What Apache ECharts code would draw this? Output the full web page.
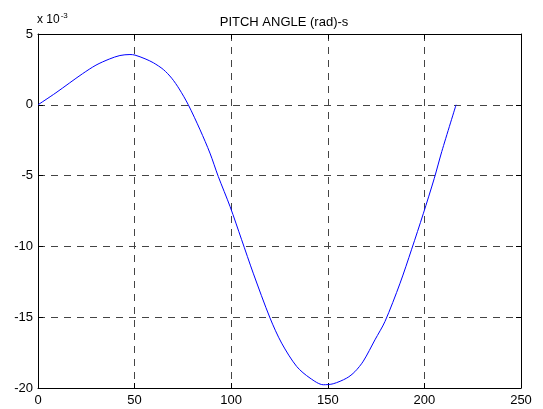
<!DOCTYPE html>
<html>
<head>
<meta charset="utf-8">
<script src="https://cdn.jsdelivr.net/npm/echarts@6.0.0/dist/echarts.min.js"></script>
<style>
  html, body { margin: 0; padding: 0; background: #fff; }
  #chart { width: 543px; height: 409px; }
</style>
</head>
<body>
<div id="chart"></div>
<script>
// time (s) and pitch angle (rad, x 10^-3)
const timeS = [0, 9.3, 16.2, 23.1, 30, 36.9, 42.4, 47.6, 50.2, 55.4, 59.7, 64.9, 69.2, 73.1, 77.8,
  83.9, 89, 93.3, 99.4, 105.4, 111.4, 120.1, 126.1, 133.9, 140.8, 147.7, 152.8, 159.8,
  164, 168.4, 174.4, 179.6, 187.4, 193.4, 199.4, 205.1, 209, 216.4];
const pitch = [0, 0.85, 1.53, 2.2, 2.8, 3.23, 3.48, 3.55, 3.51, 3.25, 2.97, 2.49, 1.88, 1.12, 0,
  -1.77, -3.41, -5.06, -7.18, -9.53, -11.89, -15.06, -16.83, -18.48, -19.3, -19.77, -19.7, -19.3,
  -18.85, -18.1, -16.6, -15.3, -12.6, -10.2, -7.7, -5.2, -3.3, 0];

const xTicks = { min: 0, max: 250, interval: 50 };
const yTicks = { min: -20, max: 5, interval: 5 };

const font = 'Liberation Sans, Arial, sans-serif';
const chart = echarts.init(document.getElementById('chart'));

const dashed = { show: true, lineStyle: { color: '#444', type: [7, 6], width: 1 } };
const boxAxis = { show: true, onZero: false, lineStyle: { color: '#000', width: 1 } };
const inTicks = { show: true, inside: true, length: 5, lineStyle: { color: '#000' } };

chart.setOption({
  animation: false,
  backgroundColor: '#fff',
  title: {
    text: 'PITCH ANGLE (rad)-s',
    left: 279, top: 11, textAlign: 'center',
    textStyle: { fontFamily: font, fontSize: 13, fontWeight: 'normal', color: '#000' }
  },
  graphic: [{
    type: 'text', left: 37, top: 12,
    style: {
      text: 'x 10{sup|-3}',
      font: '12px ' + font, fill: '#000',
      rich: { sup: { fontSize: 8, fontFamily: font, verticalAlign: 'top', padding: [0, 0, 8, 1] } }
    }
  }],
  grid: { left: 38, right: 22, top: 34, bottom: 21 },
  xAxis: [{
    type: 'value', ...xTicks,
    axisLine: boxAxis, axisTick: inTicks, splitLine: dashed,
    axisLabel: { color: '#000', fontFamily: font, fontSize: 13, margin: 6 }
  }, {
    type: 'value', position: 'top', ...xTicks,
    axisLine: boxAxis, axisTick: inTicks, splitLine: { show: false }, axisLabel: { show: false }
  }],
  yAxis: [{
    type: 'value', ...yTicks,
    axisLine: boxAxis, axisTick: inTicks, splitLine: dashed,
    axisLabel: { color: '#000', fontFamily: font, fontSize: 13, margin: 5 }
  }, {
    type: 'value', position: 'right', ...yTicks,
    axisLine: boxAxis, axisTick: inTicks, splitLine: { show: false }, axisLabel: { show: false }
  }],
  series: [{
    type: 'line',
    data: timeS.map((t, i) => [t, pitch[i]]),
    showSymbol: false,
    smooth: 0.3,
    lineStyle: { color: '#0000ff', width: 1 }
  }]
});
</script>
</body>
</html>
